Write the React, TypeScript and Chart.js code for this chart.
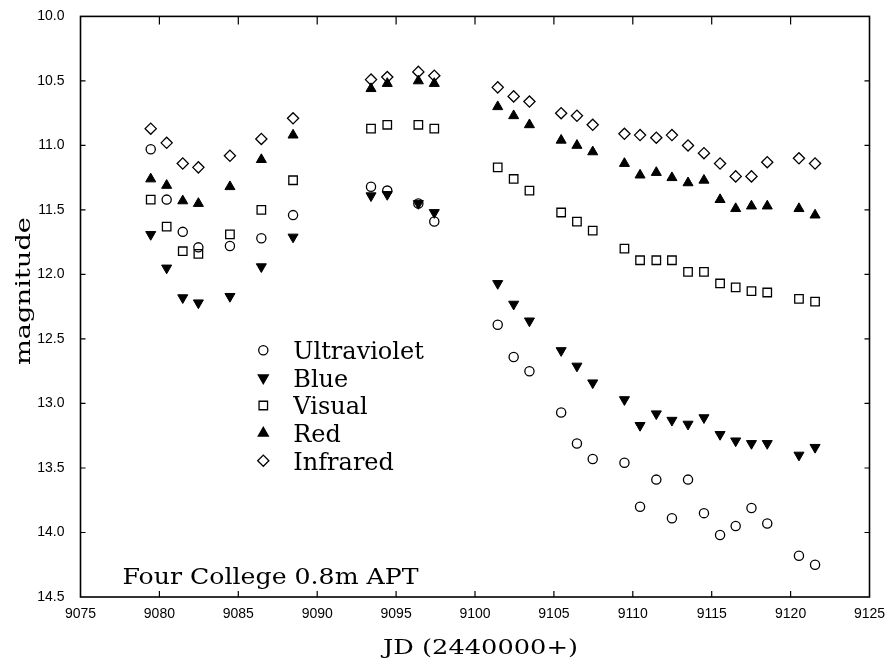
import React, { useEffect, useRef } from 'react';
import { Chart, registerables } from 'chart.js';

Chart.register(...registerables);

// Julian dates (2440000+)
const jd = [
  9079.45, 9080.46, 9081.48, 9082.47, 9084.47, 9086.46, 9088.47,
  9093.41, 9094.44, 9096.41, 9097.42,
  9101.44, 9102.45, 9103.45, 9105.46, 9106.46, 9107.46, 9109.47, 9110.46,
  9111.49, 9112.48, 9113.5, 9114.51, 9115.53, 9116.52, 9117.52, 9118.52,
  9120.53, 9121.55,
];

const ultraviolet = [
  11.03, 11.42, 11.67, 11.79, 11.78, 11.72, 11.54,
  11.32, 11.35, 11.45, 11.59,
  12.39, 12.64, 12.75, 13.07, 13.31, 13.43, 13.46, 13.8,
  13.59, 13.89, 13.59, 13.85, 14.02, 13.95, 13.81, 13.93,
  14.18, 14.25,
];

const blue = [
  11.69, 11.95, 12.18, 12.22, 12.17, 11.94, 11.71,
  11.39, 11.38, 11.45, 11.52,
  12.07, 12.23, 12.36, 12.59, 12.71, 12.84, 12.97, 13.17,
  13.08, 13.13, 13.16, 13.11, 13.24, 13.29, 13.31, 13.31,
  13.4, 13.34,
];

const visual = [
  11.42, 11.63, 11.82, 11.84, 11.69, 11.5, 11.27,
  10.87, 10.84, 10.84, 10.87,
  11.17, 11.26, 11.35, 11.52, 11.59, 11.66, 11.8, 11.89,
  11.89, 11.89, 11.98, 11.98, 12.07, 12.1, 12.13, 12.14,
  12.19, 12.21,
];

const red = [
  11.26, 11.31, 11.43, 11.45, 11.32, 11.11, 10.92,
  10.56, 10.52, 10.5, 10.52,
  10.7, 10.77, 10.84, 10.96, 11.0, 11.05, 11.14, 11.23,
  11.21, 11.25, 11.29, 11.27, 11.42, 11.49, 11.47, 11.47,
  11.49, 11.54,
];

const infrared = [
  10.87, 10.98, 11.14, 11.17, 11.08, 10.95, 10.79,
  10.49, 10.47, 10.43, 10.46,
  10.55, 10.62, 10.66, 10.75, 10.77, 10.84, 10.91, 10.92,
  10.94, 10.92, 11.0, 11.06, 11.14, 11.24, 11.24, 11.13,
  11.1, 11.14,
];

const seriesNames = ['Ultraviolet', 'Blue', 'Visual', 'Red', 'Infrared'];
const xAxisTitle = 'JD (2440000+)';
const yAxisTitle = 'magnitude';
const annotationText = 'Four College 0.8m APT';

const xMin = 9075;
const xMax = 9125;
const xStep = 5;
const yMin = 10;
const yMax = 14.5;
const yStep = 0.5;

const SERIF = '"DejaVu Serif", "Liberation Serif", serif';
const SANS = '"Liberation Sans", Arial, sans-serif';

type Sym = 'circle' | 'triDown' | 'square' | 'triUp' | 'diamond';
const symbols: Sym[] = ['circle', 'triDown', 'square', 'triUp', 'diamond'];
const symRadius: Record<Sym, number> = {
  circle: 4.6,
  triDown: 5.8,
  square: 6.0,
  triUp: 5.8,
  diamond: 5.6,
};

function drawSymbol(ctx: CanvasRenderingContext2D, sym: Sym, x: number, y: number) {
  const r = symRadius[sym];
  ctx.save();
  ctx.strokeStyle = '#000';
  ctx.fillStyle = '#000';
  ctx.lineWidth = 1.3;
  ctx.beginPath();
  if (sym === 'circle') {
    ctx.arc(x, y, r, 0, Math.PI * 2);
    ctx.stroke();
  } else if (sym === 'square') {
    const s = r * Math.SQRT1_2;
    ctx.rect(x - s, y - s, 2 * s, 2 * s);
    ctx.stroke();
  } else if (sym === 'diamond') {
    ctx.moveTo(x - r, y);
    ctx.lineTo(x, y - r);
    ctx.lineTo(x + r, y);
    ctx.lineTo(x, y + r);
    ctx.closePath();
    ctx.stroke();
  } else {
    const d = sym === 'triUp' ? 1 : -1;
    ctx.moveTo(x, y - d * r);
    ctx.lineTo(x + 0.866 * r, y + d * 0.5 * r);
    ctx.lineTo(x - 0.866 * r, y + d * 0.5 * r);
    ctx.closePath();
    ctx.fill();
    ctx.stroke();
  }
  ctx.restore();
}

function drawText(
  ctx: CanvasRenderingContext2D,
  text: string,
  x: number,
  y: number,
  size: number,
  targetWidth: number | null,
  align: CanvasTextAlign,
  rotate = 0,
) {
  ctx.save();
  ctx.font = `${size}px ${SERIF}`;
  ctx.fillStyle = '#000';
  ctx.textBaseline = 'alphabetic';
  ctx.textAlign = align;
  const w = ctx.measureText(text).width;
  const k = targetWidth ? targetWidth / w : 1;
  ctx.translate(x, y);
  if (rotate) ctx.rotate(rotate);
  ctx.scale(k, 1);
  ctx.fillText(text, 0, 0);
  ctx.restore();
}

const decorPlugin = {
  id: 'decor',
  afterDraw(chart: any) {
    const ctx: CanvasRenderingContext2D = chart.ctx;
    const { left, right, top, bottom } = chart.chartArea;
    const xs = chart.scales.x;
    const ys = chart.scales.y;
    ctx.save();
    ctx.strokeStyle = '#000';
    ctx.lineWidth = 1.6;
    ctx.strokeRect(left, top, right - left, bottom - top);
    ctx.lineWidth = 1.2;
    ctx.beginPath();
    for (let v = xMin + xStep; v < xMax; v += xStep) {
      const px = xs.getPixelForValue(v);
      ctx.moveTo(px, bottom);
      ctx.lineTo(px, bottom - 6);
      ctx.moveTo(px, top);
      ctx.lineTo(px, top + 8);
    }
    for (let v = yMin + yStep; v < yMax - 1e-9; v += yStep) {
      const py = ys.getPixelForValue(v);
      ctx.moveTo(left, py);
      ctx.lineTo(left + 5, py);
      ctx.moveTo(right, py);
      ctx.lineTo(right - 5, py);
    }
    ctx.stroke();
    ctx.restore();

    // axis titles
    drawText(ctx, xAxisTitle, 480.5, 654, 21, 195, 'center');
    drawText(ctx, yAxisTitle, 29.5, 291, 21, 148, 'center', -Math.PI / 2);

    // legend
    const legendX = 263.3;
    const legendY0 = 350.3;
    const legendDy = 27.6;
    seriesNames.forEach((name, i) => {
      const y = legendY0 + i * legendDy;
      drawSymbol(ctx, symbols[i], legendX, y);
      drawText(ctx, name, 293.3, y + 8.8, 24, null, 'left');
    });

    // annotation
    drawText(ctx, annotationText, 122.5, 584, 22, 296, 'left');
  },
};

function makeDataset(label: string, values: number[], sym: Sym) {
  const base: any = {
    label,
    data: jd.map((x, i) => ({ x, y: values[i] })),
    showLine: false,
    pointRadius: symRadius[sym],
    pointHoverRadius: symRadius[sym],
    borderColor: '#000',
    pointBorderColor: '#000',
    pointBorderWidth: 1.3,
  };
  if (sym === 'circle') {
    base.pointStyle = 'circle';
    base.pointBackgroundColor = 'rgba(0,0,0,0)';
  } else if (sym === 'square') {
    base.pointStyle = 'rect';
    base.pointBackgroundColor = 'rgba(0,0,0,0)';
  } else if (sym === 'diamond') {
    base.pointStyle = 'rectRot';
    base.pointBackgroundColor = 'rgba(0,0,0,0)';
  } else {
    base.pointStyle = 'triangle';
    base.pointRotation = sym === 'triDown' ? 180 : 0;
    base.pointBackgroundColor = '#000';
    base.pointBorderWidth = 1;
  }
  return base;
}

export default function App() {
  const canvasRef = useRef<HTMLCanvasElement | null>(null);

  useEffect(() => {
    if (!canvasRef.current) return;
    const chart = new Chart(canvasRef.current, {
      type: 'scatter',
      data: {
        datasets: [
          makeDataset(seriesNames[0], ultraviolet, 'circle'),
          makeDataset(seriesNames[1], blue, 'triDown'),
          makeDataset(seriesNames[2], visual, 'square'),
          makeDataset(seriesNames[3], red, 'triUp'),
          makeDataset(seriesNames[4], infrared, 'diamond'),
        ],
      },
      options: {
        animation: false,
        responsive: false,
        maintainAspectRatio: false,
        layout: { padding: { left: 0, right: 19.5, top: 12.5, bottom: 0 } },
        plugins: {
          legend: { display: false },
          tooltip: { enabled: false },
          title: { display: false },
        },
        scales: {
          x: {
            type: 'linear',
            min: xMin,
            max: xMax,
            grid: { display: false },
            border: { display: false },
            ticks: {
              stepSize: xStep,
              autoSkip: false,
              maxRotation: 0,
              padding: 1,
              color: '#000',
              font: { family: SANS, size: 14 },
              callback: (v: any) => String(v),
            },
            afterFit: (s: any) => {
              s.height = 67;
            },
          },
          y: {
            type: 'linear',
            reverse: true,
            min: yMin,
            max: yMax,
            grid: { display: false },
            border: { display: false },
            ticks: {
              stepSize: yStep,
              autoSkip: false,
              padding: 8,
              color: '#000',
              font: { family: SANS, size: 14 },
              callback: (v: any) => Number(v).toFixed(1),
            },
            afterFit: (s: any) => {
              s.width = 80.5;
            },
          },
        },
      },
      plugins: [decorPlugin],
    } as any);
    return () => chart.destroy();
  }, []);

  return (
    <div style={{ position: 'fixed', left: 0, top: 0, width: 889, height: 664, background: '#fff' }}>
      <canvas ref={canvasRef} width={889} height={664} style={{ display: 'block' }} />
    </div>
  );
}
